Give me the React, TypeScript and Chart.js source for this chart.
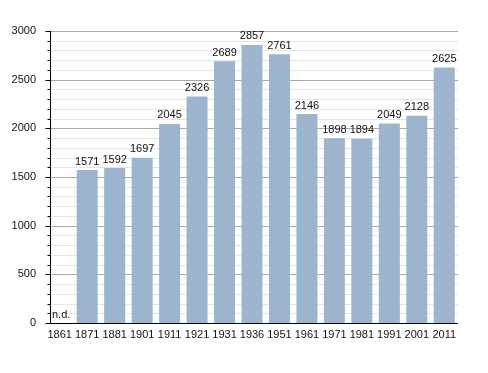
import React, { useEffect, useRef } from "react";
import { Chart, registerables } from "chart.js";

Chart.register(...registerables);

const years = ["1861", "1871", "1881", "1901", "1911", "1921", "1931", "1936", "1951", "1961", "1971", "1981", "1991", "2001", "2011"];
const population: (number | null)[] = [null, 1571, 1592, 1697, 2045, 2326, 2689, 2857, 2761, 2146, 1898, 1894, 2049, 2128, 2625];
const missingLabel = "n.d.";
const yMax = 3000;
const majorStep = 500;
const minorStep = 100;

const FONT = "'Liberation Sans', Arial, sans-serif";

const axisPlugin = {
  id: "customAxis",
  beforeDatasetsDraw(chart: any) {
    const { ctx, chartArea, scales } = chart;
    const y = scales.y;
    const axisX = chartArea.left + 4;
    ctx.save();
    ctx.lineWidth = 1;
    for (let v = minorStep; v <= yMax; v += minorStep) {
      const py = Math.round(y.getPixelForValue(v)) + 0.5;
      ctx.strokeStyle = v % majorStep === 0 ? "#a8a8a8" : "#e4e4e4";
      ctx.beginPath();
      ctx.moveTo(axisX, py);
      ctx.lineTo(chartArea.right, py);
      ctx.stroke();
    }
    ctx.restore();
  },
  afterDatasetsDraw(chart: any) {
    const { ctx, chartArea, scales } = chart;
    const y = scales.y;
    const axisX = chartArea.left + 4.5;
    const bottom = Math.round(y.getPixelForValue(0)) + 0.5;
    ctx.save();
    ctx.strokeStyle = "#000";
    ctx.lineWidth = 1;
    ctx.beginPath();
    ctx.moveTo(axisX, Math.round(chartArea.top));
    ctx.lineTo(axisX, bottom);
    ctx.stroke();
    for (let v = minorStep; v <= yMax; v += minorStep) {
      const py = Math.round(y.getPixelForValue(v)) + 0.5;
      const len = v % majorStep === 0 ? 5 : 3;
      ctx.beginPath();
      ctx.moveTo(axisX - len, py);
      ctx.lineTo(axisX, py);
      ctx.stroke();
    }
    ctx.beginPath();
    ctx.moveTo(axisX - 5, bottom);
    ctx.lineTo(chartArea.right, bottom);
    ctx.stroke();

    // value labels
    ctx.fillStyle = "#111";
    ctx.font = `11px ${FONT}`;
    ctx.textAlign = "center";
    ctx.textBaseline = "bottom";
    const meta = chart.getDatasetMeta(0);
    meta.data.forEach((bar: any, i: number) => {
      const val = population[i];
      const x = scales.x.getPixelForValue(i);
      if (val === null) {
        ctx.textAlign = "left";
        ctx.fillText(missingLabel, chartArea.left + 6, bottom - 3);
        ctx.textAlign = "center";
      } else {
        ctx.fillText(String(val), x, bar.y - 3);
      }
    });
    ctx.restore();
  },
};

export default function App() {
  const ref = useRef<HTMLCanvasElement>(null);
  useEffect(() => {
    if (!ref.current) return;
    const chart = new Chart(ref.current, {
      type: "bar",
      data: {
        labels: years,
        datasets: [
          {
            data: population,
            backgroundColor: "#9db4cf",
            borderWidth: 0,
            categoryPercentage: 1,
            barPercentage: 0.765,
          },
        ],
      },
      options: {
        responsive: false,
        animation: false,
        layout: { padding: { left: 0, right: 30, top: 31, bottom: 0 } },
        plugins: { legend: { display: false }, tooltip: { enabled: false } },
        scales: {
          x: {
            grid: { display: false, drawTicks: false },
            border: { display: false },
            ticks: {
              color: "#111",
              font: { family: FONT, size: 11 },
              padding: 5,
              maxRotation: 0,
              autoSkip: false,
            },
            afterFit(scale: any) {
              scale.height = 50;
            },
          },
          y: {
            min: 0,
            max: yMax,
            grid: { display: false, drawTicks: false },
            border: { display: false },
            ticks: {
              stepSize: minorStep,
              autoSkip: false,
              color: "#111",
              font: { family: FONT, size: 11 },
              padding: 10,
              callback: (v: any) => (Number(v) % majorStep === 0 ? String(v) : ""),
            },
            afterFit(scale: any) {
              scale.width = 46;
            },
          },
        },
      },
      plugins: [axisPlugin],
    });
    return () => chart.destroy();
  }, []);
  return (
    <div style={{ position: "absolute", left: 0, top: 0, width: 488, height: 373, background: "#fff" }}>
      <canvas ref={ref} width={488} height={373} />
    </div>
  );
}
